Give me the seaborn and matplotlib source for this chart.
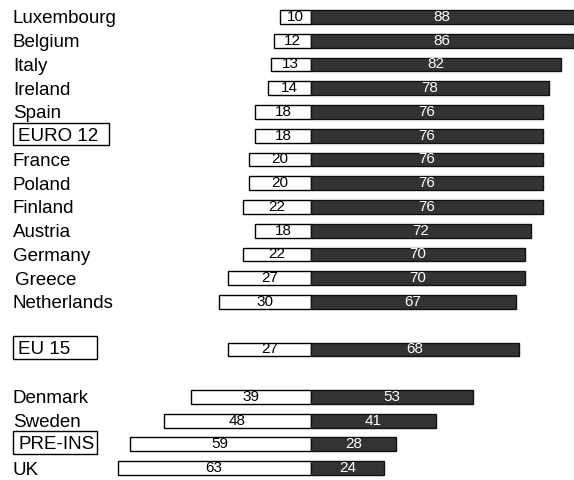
import matplotlib
matplotlib.use("Agg")
import matplotlib.pyplot as plt
import matplotlib.transforms as mtransforms
from matplotlib.patches import Rectangle
import seaborn as sns
import pandas as pd

countries = ["Luxembourg", "Belgium", "Italy", "Ireland", "Spain", "EURO 12",
             "France", "Poland", "Finland", "Austria", "Germany", "Greece",
             "Netherlands", "EU 15", "Denmark", "Sweden", "PRE-INS", "UK"]
left_vals = [10, 12, 13, 14, 18, 18, 20, 20, 22, 18, 22, 27, 30, 27, 39, 48, 59, 63]
right_vals = [88, 86, 82, 78, 76, 76, 76, 76, 76, 72, 70, 70, 67, 68, 53, 41, 28, 24]
rows = [0, 1, 2, 3, 4, 5, 6, 7, 8, 9, 10, 11, 12, 14, 16, 17, 18, 19]
boxed = {"EURO 12": 0.19, "EU 15": 0.169, "PRE-INS": 0.169}

df = pd.DataFrame({"country": countries, "left": left_vals, "right": right_vals, "row": rows})
df["neg"] = -df["left"]

sns.set_style("white")
plt.rcParams["font.family"] = ["Liberation Sans", "DejaVu Sans"]

fig = plt.figure(figsize=(5.74, 4.8), dpi=100)
ax = fig.add_axes([0, 0, 1, 1])

sns.barplot(data=df, x="neg", y="row", orient="h", native_scale=True,
            color="white", edgecolor="black", linewidth=1, width=0.58,
            saturation=1, errorbar=None, ax=ax)
sns.barplot(data=df, x="right", y="row", orient="h", native_scale=True,
            color="#333333", edgecolor="#111111", linewidth=1, width=0.58,
            saturation=1, errorbar=None, ax=ax)

ax.bar_label(ax.containers[0], labels=[str(v) for v in left_vals],
             label_type="center", fontsize=11, color="black")
ax.bar_label(ax.containers[1], labels=[str(v) for v in right_vals],
             label_type="center", fontsize=11, color="white")

trans = mtransforms.blended_transform_factory(ax.transAxes, ax.transData)
for name, r in zip(countries, rows):
    if name in boxed:
        ax.text(0.0314, r + 0.02, name, transform=trans, fontsize=13.5,
                va="center", ha="left", color="black")
        ax.add_patch(Rectangle((0.0226, r - 0.55), boxed[name] - 0.0226, 0.95,
                               transform=trans, fill=False, edgecolor="black",
                               linewidth=1, clip_on=False))
    else:
        xoff = 0.026 if name == "Greece" else 0.0226
        ax.text(xoff, r + 0.08, name, transform=trans, fontsize=13.5,
                va="center", ha="left", color="black")

ax.set_xlim(-101.5, 86.1)
ax.set_ylim(19.5, -0.716)
ax.axis("off")

fig.savefig("out.png", dpi=100)
